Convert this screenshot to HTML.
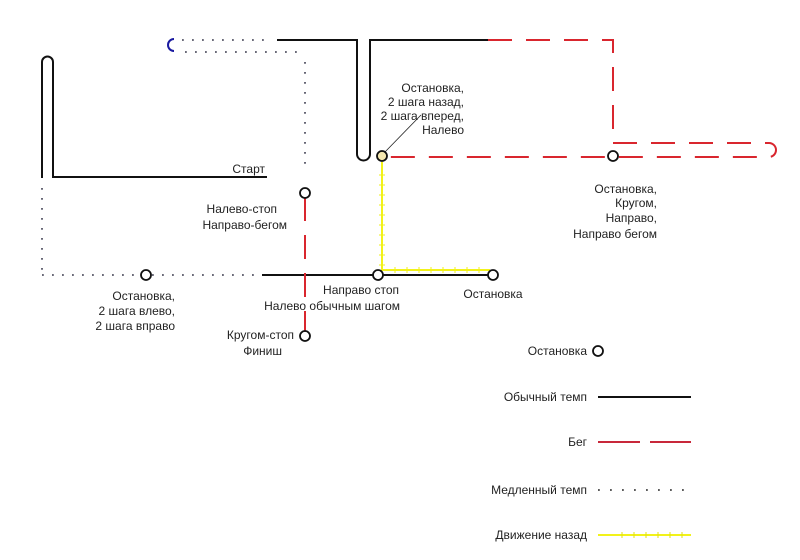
<!DOCTYPE html>
<html><head><meta charset="utf-8"><style>
html,body{margin:0;padding:0;background:#fff}
svg{display:block}
text{font-family:"Liberation Sans",sans-serif;font-size:12px;fill:#222}
</style></head><body>
<svg width="800" height="560" viewBox="0 0 800 560" xmlns="http://www.w3.org/2000/svg">
<g fill="none">
<path d="M174 39 A6 6 0 0 0 174 51" stroke="#1a1aa0" stroke-width="2"/>
<g stroke="#556" stroke-width="1.8" stroke-dasharray="1.8 8.2">
<line x1="182" y1="40" x2="272" y2="40"/>
<line x1="185" y1="52" x2="305" y2="52"/>
<line x1="305" y1="62" x2="305" y2="172"/>
<line x1="42" y1="188" x2="42" y2="275"/>
<line x1="42" y1="275" x2="260" y2="275"/>
</g>
<g stroke="#111" stroke-width="2">
<path d="M277 40 H357 V154 A6.5 6.5 0 0 0 370 154 V40 H488"/>
<path d="M42 178 V62 A5.5 5.5 0 0 1 53 62 V177 H267"/>
<line x1="262" y1="275" x2="493" y2="275"/>
</g>
<g stroke="#d9262e" stroke-width="2" stroke-dasharray="24 14">
<path d="M488 40 H613 V143 H769 A7 7 0 0 1 769 157 H386"/>
<line x1="305" y1="197" x2="305" y2="332"/>
</g>
<path d="M382 162 V270 H490" stroke="#f2f21a" stroke-width="2"/>
<g stroke="#f2f21a" stroke-width="1">
<path d="M379 175h6M379 185h6M379 195h6M379 205h6M379 215h6M379 225h6M379 235h6M379 245h6M379 255h6M379 265h6"/>
<path d="M395 267v6M407 267v6M419 267v6M431 267v6M443 267v6M455 267v6M467 267v6M479 267v6"/>
</g>
<line x1="384" y1="153" x2="421" y2="115" stroke="#222" stroke-width="0.8"/>
<g stroke="#111" stroke-width="1.8" fill="#fff">
<circle cx="382" cy="156" r="5" fill="#f5e8b0"/>
<circle cx="613" cy="156" r="5" fill="none"/>
<circle cx="305" cy="193" r="5"/>
<circle cx="146" cy="275" r="5"/>
<circle cx="378" cy="275" r="5"/>
<circle cx="493" cy="275" r="5"/>
<circle cx="305" cy="336" r="5"/>
<circle cx="598" cy="351" r="5"/>
</g>
<line x1="598" y1="397" x2="691" y2="397" stroke="#111" stroke-width="2"/>
<path d="M598 442h42M650 442h41" stroke="#c8283a" stroke-width="2"/>
<line x1="598" y1="490" x2="693" y2="490" stroke="#444" stroke-width="1.8" stroke-dasharray="1.8 10.2"/>
<line x1="598" y1="535" x2="691" y2="535" stroke="#f2f21a" stroke-width="2"/>
<path d="M622 532v6M634 532v6M646 532v6M658 532v6M670 532v6M682 532v6" stroke="#e0e010" stroke-width="1"/>
</g>
<g text-anchor="end">
<text x="265" y="173">Старт</text>
<text x="464" y="92">Остановка,</text>
<text x="464" y="106">2 шага назад,</text>
<text x="464" y="120">2 шага вперед,</text>
<text x="464" y="134">Налево</text>
<text x="657" y="193">Остановка,</text>
<text x="657" y="207">Кругом,</text>
<text x="657" y="222">Направо,</text>
<text x="657" y="238">Направо бегом</text>
<text x="277" y="213">Налево-стоп</text>
<text x="287" y="229">Направо-бегом</text>
<text x="175" y="300">Остановка,</text>
<text x="175" y="315">2 шага влево,</text>
<text x="175" y="330">2 шага вправо</text>
<text x="294" y="339">Кругом-стоп</text>
<text x="282" y="355">Финиш</text>
<text x="587" y="355">Остановка</text>
<text x="587" y="401">Обычный темп</text>
<text x="587" y="446">Бег</text>
<text x="587" y="494">Медленный темп</text>
<text x="587" y="539">Движение назад</text>
</g>
<text x="399" y="294" text-anchor="end">Направо стоп</text>
<text x="400" y="310" text-anchor="end">Налево обычным шагом</text>
<text x="493" y="298" text-anchor="middle">Остановка</text>
</svg>
</body></html>
